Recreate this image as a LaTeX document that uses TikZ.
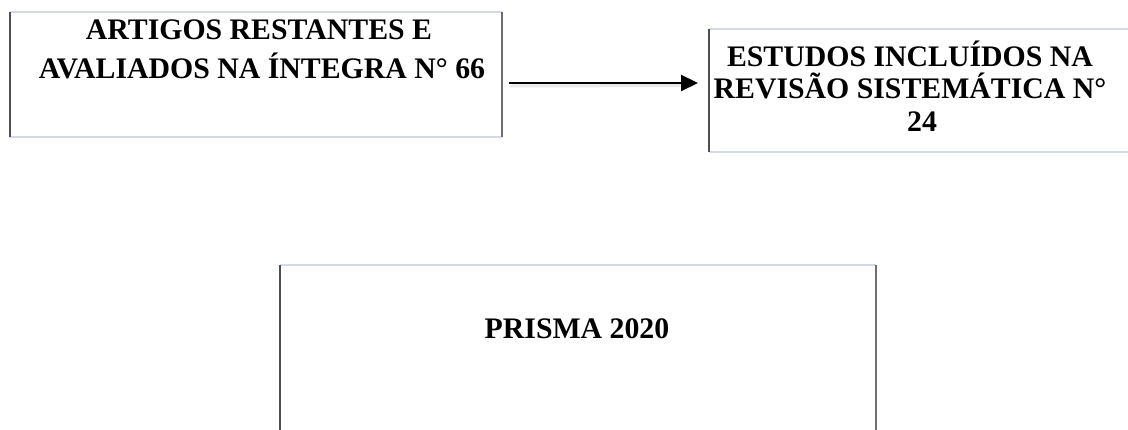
\documentclass[tikz,border=0pt]{standalone}
\usepackage{fontspec}
\setmainfont{Liberation Serif}
\usetikzlibrary{arrows.meta,calc}
\definecolor{sidegray}{HTML}{4F4F4F}
\definecolor{rightgray}{HTML}{6E6E6E}
\definecolor{edgeblue}{HTML}{D3DAE5}
\begin{document}
\begin{tikzpicture}[x=1pt,y=-1pt,
  lbl/.style={anchor=base,inner sep=0pt,font=\fontsize{29.8}{35}\selectfont\bfseries},
  frame/.style={inner sep=0pt,outer sep=0pt},
  side/.style={draw=sidegray,line width=2.2pt},
  rside/.style={draw=rightgray,line width=1.6pt},
  topb/.style={draw=edgeblue,line width=2pt},
  arr/.style={-{Triangle[length=17pt,width=16pt]},line width=2.2pt},
  arrshadow/.style={draw=black!9,line width=3pt}]
\useasboundingbox (0,0) rectangle (1128,430);
\clip (0,0) rectangle (1128,430);
\fill[white] (0,0) rectangle (1128,430);

% frames
\node[frame,minimum width=492pt,minimum height=125pt] (b1) at (256,74.5) {};
\node[frame,minimum width=441pt,minimum height=123pt] (b2) at (929.5,90.5) {};
\node[frame,minimum width=596pt,minimum height=184.5pt] (b3) at (578,357.75) {};

\foreach \b in {b1,b2,b3}{
  \draw[topb] (\b.north west) -- (\b.north east);
  \draw[topb] (\b.south west) -- (\b.south east);
  \draw[side] (\b.north west) -- (\b.south west);
  \draw[rside] (\b.north east) -- (\b.south east);
}

% texts
\node[lbl] (t11) at (259,40) {ARTIGOS RESTANTES E};
\node[lbl] (t12) at (262,79) {AVALIADOS NA ÍNTEGRA N° 66};
\node[lbl] (t21) at (910,66.7) {ESTUDOS INCLUÍDOS NA};
\node[lbl] (t22) at (910,98.3) {REVISÃO SISTEMÁTICA N°};
\node[lbl] (t23) at (922,131.7) {24};
\node[lbl] (t3) at (577,338.3) {PRISMA 2020};

% arrow
\draw[arrshadow] ($(b1.east)+(9,11.5)$) -- ($(b2.west)+(-16,-5)$);
\draw[arr] ($(b1.east)+(7,8.5)$) -- ($(b2.west)+(-11,-7.5)$);
\end{tikzpicture}
\end{document}
